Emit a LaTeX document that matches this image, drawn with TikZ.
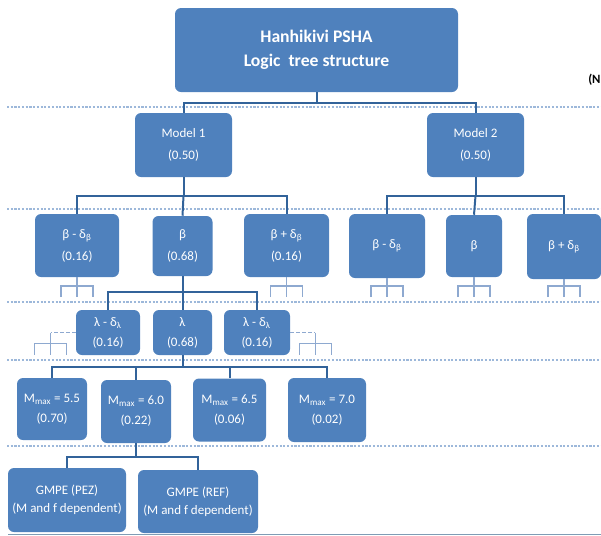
\documentclass[tikz,border=0pt]{standalone}
\usepackage{fontspec}
\setmainfont{Carlito}
\usetikzlibrary{calc}
\definecolor{boxblue}{HTML}{4F81BD}
\definecolor{connblue}{HTML}{32639A}
\definecolor{stubblue}{HTML}{8EA9D0}
\definecolor{sepblue}{HTML}{9DB8DA}
\definecolor{bottomgrey}{HTML}{7F9CB5}
\tikzset{
  box/.style={rectangle,rounded corners=4.5pt,fill=boxblue,text=white,align=center,inner sep=0pt,font=\fontsize{9.75}{16.5}\selectfont},
  conn/.style={draw=connblue,line width=1.5pt},
  stub/.style={draw=stubblue,line width=0.8pt},
  stubdash/.style={stub,dash pattern=on 3pt off 1.5pt},
  sep/.style={draw=sepblue,line width=0.8pt,dash pattern=on 1.6pt off 1.2pt},
  smallfont/.style={font=\fontsize{9.75}{15}\selectfont},
  gfont/.style={font=\fontsize{9.75}{13.5}\selectfont}}
\begin{document}
\begin{tikzpicture}[x=0.75pt,y=-0.75pt]
\useasboundingbox (0,0) rectangle (601,536);
% separators
\foreach \yy in {107,209,302,360,446}{\draw[sep] (7,\yy) -- (601,\yy);}
\draw[draw=bottomgrey,line width=1.2pt] (8,534.5) -- (601,534.5);
% nodes
\node[box,minimum width={283*0.75pt},minimum height={84*0.75pt},font=\fontsize{13.25}{18}\selectfont\bfseries] (title) at (316.5,50) {Hanhikivi PSHA\\Logic~ tree structure};
\node[anchor=west,font=\fontsize{9.5}{11}\selectfont\bfseries,inner sep=0pt] (note) at (588,80) {(N};
\node[box,minimum width={97*0.75pt},minimum height={64*0.75pt}] (m1) at (183.5,145) {Model 1\\(0.50)};
\node[box,minimum width={97*0.75pt},minimum height={64*0.75pt}] (m2) at (475.5,145) {Model 2\\(0.50)};
\node[box,minimum width={84*0.75pt},minimum height={63*0.75pt}] (b1) at (77,245.5) {β - δ\textsubscript{β}\\(0.16)};
\node[box,minimum width={60*0.75pt},minimum height={60*0.75pt}] (b2) at (182.5,246) {β\\(0.68)};
\node[box,minimum width={85*0.75pt},minimum height={63*0.75pt}] (b3) at (286.5,245.5) {β + δ\textsubscript{β}\\(0.16)};
\node[box,minimum width={76*0.75pt},minimum height={64*0.75pt}] (b4) at (387,246) {β - δ\textsubscript{β}};
\node[box,minimum width={56*0.75pt},minimum height={62*0.75pt}] (b5) at (474,246) {β};
\node[box,minimum width={74*0.75pt},minimum height={65*0.75pt}] (b6) at (564,246.5) {β + δ\textsubscript{β}};
\node[box,smallfont,minimum width={64*0.75pt},minimum height={45*0.75pt}] (l1) at (108,332.5) {λ - δ\textsubscript{λ}\\(0.16)};
\node[box,smallfont,minimum width={59*0.75pt},minimum height={45*0.75pt}] (l2) at (182.5,332.5) {λ\\(0.68)};
\node[box,smallfont,minimum width={66*0.75pt},minimum height={45*0.75pt}] (l3) at (257,332.5) {λ - δ\textsubscript{λ}\\(0.16)};
\node[box,smallfont,minimum width={70*0.75pt},minimum height={62*0.75pt}] (mm1) at (52,409) {M\textsubscript{max} = 5.5\\(0.70)};
\node[box,smallfont,minimum width={70*0.75pt},minimum height={63*0.75pt}] (mm2) at (136,411.5) {M\textsubscript{max} = 6.0\\(0.22)};
\node[box,smallfont,minimum width={73*0.75pt},minimum height={63*0.75pt}] (mm3) at (229.5,410) {M\textsubscript{max} = 6.5\\(0.06)};
\node[box,smallfont,minimum width={78*0.75pt},minimum height={64*0.75pt}] (mm4) at (327,410) {M\textsubscript{max} = 7.0\\(0.02)};
\node[box,gfont,minimum width={118*0.75pt},minimum height={64*0.75pt}] (g1) at (67,500) {GMPE (PEZ)\\(M and f dependent)};
\node[box,gfont,minimum width={120*0.75pt},minimum height={63*0.75pt}] (g2) at (198,501.5) {GMPE (REF)\\(M and f dependent)};
% connectors
\coordinate (j0) at (316.5,103);
\draw[conn] (title.south) -- (j0);
\draw[conn] (m1.north) |- (j0) -| (m2.north);
\coordinate (j1) at (183.5,196);
\draw[conn] (m1.south) -- (j1);
\draw[conn] (b1.north) |- (j1) -| (b3.north);
\draw[conn] (j1) -- (b2.north);
\coordinate (j2) at (475.5,196);
\draw[conn] (m2.south) -- (j2);
\draw[conn] (b4.north) |- (j2) -| (b6.north);
\draw[conn] (j2) -- (b5.north);
\coordinate (j3) at (182.5,292);
\draw[conn] (b2.south) -- (l2.north);
\draw[conn] (l1.north) |- (j3) -| (l3.north);
\coordinate (j4) at (182.5,367);
\draw[conn] (l2.south) -- (j4);
\draw[conn] (mm1.north) |- (j4) -| (mm4.north);
\draw[conn] (mm2.north) -- (mm2.north |- j4);
\draw[conn] (mm3.north) -- (mm3.north |- j4);
\coordinate (j5) at (136,457);
\draw[conn] (mm2.south) -- (j5);
\draw[conn] (g1.north) |- (j5) -| (g2.north);
% stub trees
\coordinate (ybot) at (0,297);
\foreach \bb in {b1,b3,b4,b5,b6}{
  \draw[stub] (\bb.south) -- (\bb.south |- ybot);
  \draw[stub] ($(\bb.south |- ybot)+(-16,0)$) -- ++(0,-11) -- ++(32,0) -- ++(0,11);
}
\draw[stubdash] (l1.west) -- ++(-25,0) coordinate (ls);
\draw[stub] (ls) -- ++(0,22);
\draw[stub] ($(ls)+(-16,22)$) -- ++(0,-11) -- ++(32,0) -- ++(0,11);
\draw[stubdash] (l3.east) -- ++(25,0) coordinate (rs);
\draw[stub] (rs) -- ++(0,22);
\draw[stub] ($(rs)+(-16,22)$) -- ++(0,-11) -- ++(32,0) -- ++(0,11);
\end{tikzpicture}
\end{document}
